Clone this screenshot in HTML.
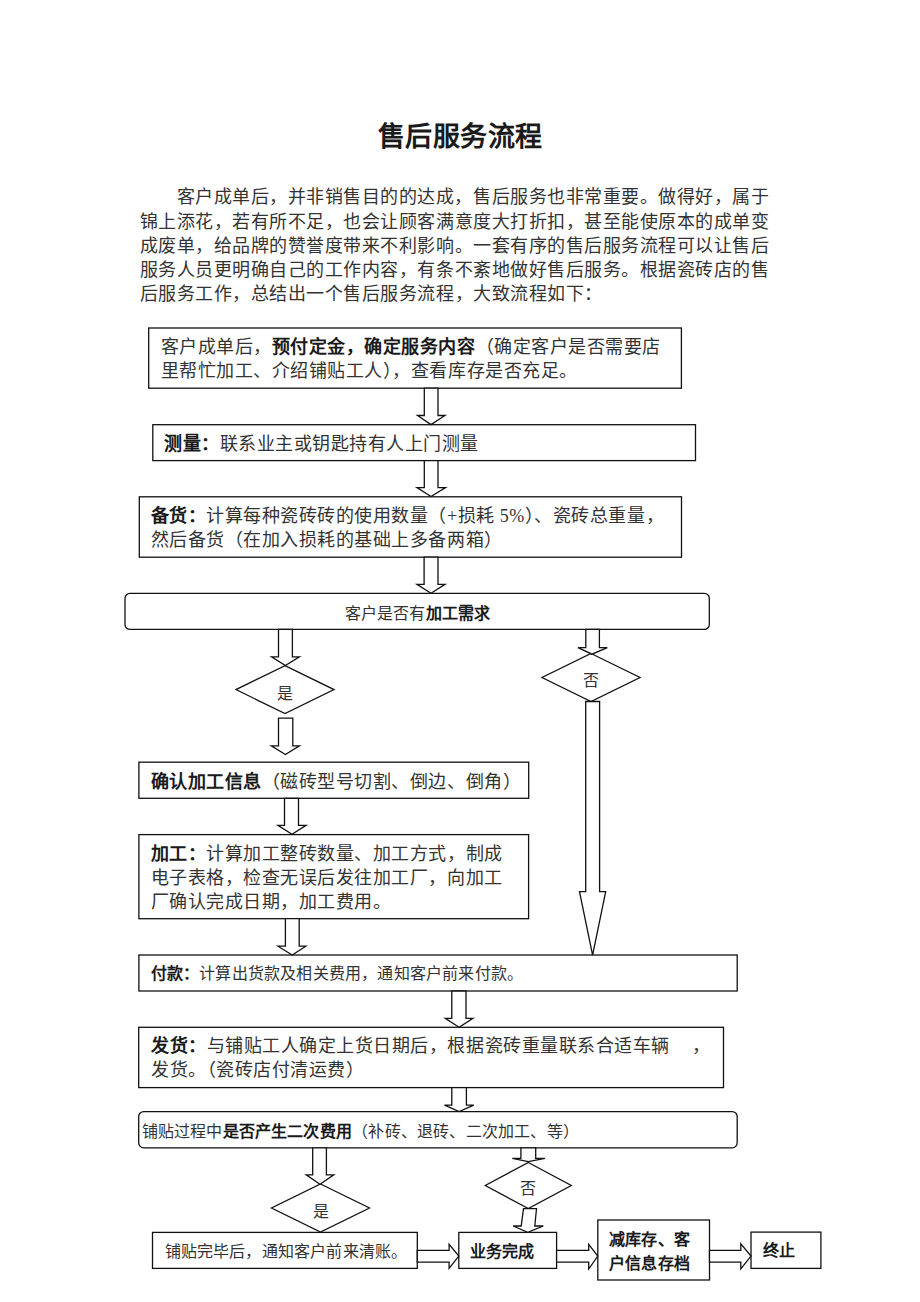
<!DOCTYPE html>
<html lang="zh-CN"><head><meta charset="utf-8"><title>售后服务流程</title>
<style>
html,body{margin:0;padding:0;background:#fff;}
body{width:920px;height:1302px;position:relative;overflow:hidden;font-family:"Liberation Serif",serif;color:#333;}
b{color:#1a1a1a;}
.fc{position:absolute;left:0;top:0;}
.t{position:absolute;white-space:nowrap;}
b{font-weight:bold;}
.hw{letter-spacing:-9.25px;}
.lat{font-family:"Liberation Serif",serif;}
</style></head><body>
<svg class="fc" width="920" height="1302" viewBox="0 0 920 1302"><g fill="#fff" stroke="#111" stroke-width="1.3" stroke-linejoin="miter"><rect x="148.7" y="328" width="532.70" height="60.20" rx="0"/><rect x="152.8" y="424.7" width="542.70" height="35.90" rx="0"/><rect x="139.3" y="496.8" width="542.20" height="60.40" rx="0"/><rect x="125" y="593.3" width="584.30" height="36.10" rx="5"/><rect x="138.9" y="762.2" width="389.80" height="36.10" rx="0"/><rect x="138.9" y="834.6" width="389.70" height="84.10" rx="0"/><rect x="138.9" y="955" width="598.30" height="36.00" rx="0"/><rect x="138.7" y="1027.3" width="584.80" height="60.30" rx="0"/><rect x="138.7" y="1111.6" width="598.50" height="36.20" rx="5"/><rect x="152.5" y="1232.4" width="264.80" height="36.00" rx="0"/><rect x="458.8" y="1232.4" width="97.80" height="36.00" rx="0"/><rect x="597.8" y="1220" width="111.70" height="60.00" rx="0"/><rect x="751" y="1232.1" width="69.90" height="36.30" rx="0"/><path d="M285,665.6 L334,689.6 L285,713.6 L236,689.6 Z"/><path d="M591,653.5 L640,677.5 L591,701.5 L542,677.5 Z"/><path d="M320.5,1184 L369.5,1208 L320.5,1232 L271.5,1208 Z"/><path d="M528.3,1162.5 L571.3,1185.5 L528.3,1208.5 L485.29999999999995,1185.5 Z"/><path d="M424.3,388.2 L424.3,415.5 L417.5,415.5 L431,424.6 L445,415.5 L438,415.5 L438,388.2 Z"/><path d="M424.3,460.6 L424.3,487.6 L417,487.6 L431,496.6 L445.5,487.6 L438,487.6 L438,460.6 Z"/><path d="M424.1,557.2 L424.1,584.3 L417,584.3 L431,593.2 L445,584.3 L438,584.3 L438,557.2 Z"/><path d="M278.5,629.4 L278.5,656.8 L271.6,656.8 L285.4,665.6 L299.4,656.8 L292.4,656.8 L292.4,629.4 Z"/><path d="M585.8,629.4 L585.8,647.7 L578,647.7 L592,654.2 L607.3,647.7 L599.4,647.7 L599.4,629.4 Z"/><path d="M278.5,718.2 L278.5,745.9 L271.4,745.9 L285.4,754.6 L299.4,745.9 L292.8,745.9 L292.8,718.2 Z"/><path d="M585.7,701.5 L585.7,891.7 L579.5,891.7 L592.6,955.2 L605.7,891.7 L599.6,891.7 L599.6,701.5 Z"/><path d="M284.5,798.3 L284.5,825.4 L278,825.4 L292,834.2 L306,825.4 L298.5,825.4 L298.5,798.3 Z"/><path d="M285.4,918.7 L285.4,946.2 L278,946.2 L292.2,955 L305.8,946.2 L299.2,946.2 L299.2,918.7 Z"/><path d="M451.8,991 L451.8,1018.3 L445.3,1018.3 L459.1,1027.3 L472.9,1018.3 L466,1018.3 L466,991 Z"/><path d="M451.8,1087.6 L451.8,1105.2 L444.5,1105.2 L459.1,1111.6 L473.8,1105.2 L466.4,1105.2 L466.4,1087.6 Z"/><path d="M312.7,1147.8 L312.7,1174.8 L306.2,1174.8 L320,1184.3 L333.8,1174.8 L326.4,1174.8 L326.4,1147.8 Z"/><path d="M520.9,1147.8 L520.9,1158.3 L512.3,1158.3 L528.3,1161.7 L545,1158.3 L535.7,1158.3 L535.7,1147.8 Z"/><path d="M523.5,1208.7 L521.2,1226 L513.2,1226 L527.8,1232.4 L543.3,1226 L534.8,1226 L536.5,1208.7 Z"/><path d="M417.3,1250.4 L449.1,1250.4 L449.1,1244.4 L458.8,1256.1 L449.1,1268.4 L449.1,1262.1 L417.3,1262.1 Z"/><path d="M556.6,1250.4 L588.7,1250.4 L588.7,1244.4 L597.8,1256.1 L588.7,1269 L588.7,1262.1 L556.6,1262.1 Z"/><path d="M709.5,1250.4 L740.8,1250.4 L740.8,1243.8 L751,1256.1 L740.8,1269 L740.8,1262.1 L709.5,1262.1 Z"/></g></svg>
<div class="t" style="left:0px;top:116.90px;font-size:27px;letter-spacing:0.5px;line-height:40px;width:920px;text-align:center;font-weight:bold;color:#1a1a1a;">售后服务流程</div>
<div class="t" style="left:139.5px;top:185.43px;font-size:18px;letter-spacing:0.53px;line-height:24.15px;"><span style="padding-left:37px"></span>客户成单后，并非销售目的的达成，售后服务也非常重要。做得好，属于<br>锦上添花，若有所不足，也会让顾客满意度大打折扣，甚至能使原本的成单变<br>成废单，给品牌的赞誉度带来不利影响。一套有序的售后服务流程可以让售后<br>服务人员更明确自己的工作内容，有条不紊地做好售后服务。根据瓷砖店的售<br>后服务工作，总结出一个售后服务流程，大致流程如下：</div>
<div class="t" style="left:160.5px;top:336.38px;font-size:18px;letter-spacing:0.53px;line-height:23.75px;">客户成单后，<b>预付定金，确定服务内容</b>（确定客户是否需要店<br>里帮忙加工、介绍铺贴工人），查看库存是否充足。</div>
<div class="t" style="left:164px;top:431.70px;font-size:18px;letter-spacing:0.53px;line-height:24px;"><b>测量：</b>联系业主或钥匙持有人上门测量</div>
<div class="t" style="left:150.5px;top:505.35px;font-size:18px;letter-spacing:0.53px;line-height:23.7px;"><b>备货：</b>计算每种瓷砖砖的使用数量（<span class="lat">+</span>损耗<span class="lat"> 5%</span>）、瓷砖总重量，<br>然后备货（在加入损耗的基础上多备两箱）</div>
<div class="t" style="left:344.5px;top:601.65px;font-size:16px;letter-spacing:0.2px;line-height:24px;">客户是否有<b>加工需求</b></div>
<div class="t" style="left:235px;top:683.85px;font-size:16px;letter-spacing:0px;line-height:20px;width:100px;text-align:center;">是</div>
<div class="t" style="left:541px;top:670.65px;font-size:16px;letter-spacing:0px;line-height:20px;width:100px;text-align:center;">否</div>
<div class="t" style="left:150.5px;top:769.80px;font-size:18px;letter-spacing:0.53px;line-height:24px;"><b>确认加工信息</b>（磁砖型号切割、倒边、倒角）</div>
<div class="t" style="left:150.5px;top:843.00px;font-size:18px;letter-spacing:0.53px;line-height:23.8px;"><b>加工：</b>计算加工整砖数量、加工方式，制成<br>电子表格，检查无误后发往加工厂，向加工<br>厂确认完成日期，加工费用。</div>
<div class="t" style="left:150.5px;top:961.80px;font-size:16px;letter-spacing:0.2px;line-height:24px;"><b>付款：</b>计算出货款及相关费用，通知客户前来付款。</div>
<div class="t" style="left:151px;top:1035.20px;font-size:18px;letter-spacing:0.53px;line-height:23.9px;"><b>发货：</b>与铺贴工人确定上货日期后，根据瓷砖重量联系合适车辆<span style="padding-left:22px"></span>，<br>发货。（瓷砖店付清运费）</div>
<div class="t" style="left:141.5px;top:1119.90px;font-size:16px;letter-spacing:0.2px;line-height:24px;">铺贴过程中<b>是否产生二次费用</b>（补砖、退砖、二次加工、等）</div>
<div class="t" style="left:270.5px;top:1201.85px;font-size:16px;letter-spacing:0px;line-height:20px;width:100px;text-align:center;">是</div>
<div class="t" style="left:478.3px;top:1179.20px;font-size:16px;letter-spacing:0px;line-height:20px;width:100px;text-align:center;">否</div>
<div class="t" style="left:164.5px;top:1239.75px;font-size:16px;letter-spacing:0.2px;line-height:24px;">铺贴完毕后，通知客户前来清账。</div>
<div class="t" style="left:469.5px;top:1239.95px;font-size:16px;letter-spacing:0.2px;line-height:24px;"><b>业务完成</b></div>
<div class="t" style="left:609px;top:1228.48px;font-size:16px;letter-spacing:0.2px;line-height:23.35px;"><b>减库存、客<br>户信息存档</b></div>
<div class="t" style="left:762.5px;top:1239.45px;font-size:16px;letter-spacing:0.2px;line-height:24px;"><b>终止</b></div>
</body></html>
